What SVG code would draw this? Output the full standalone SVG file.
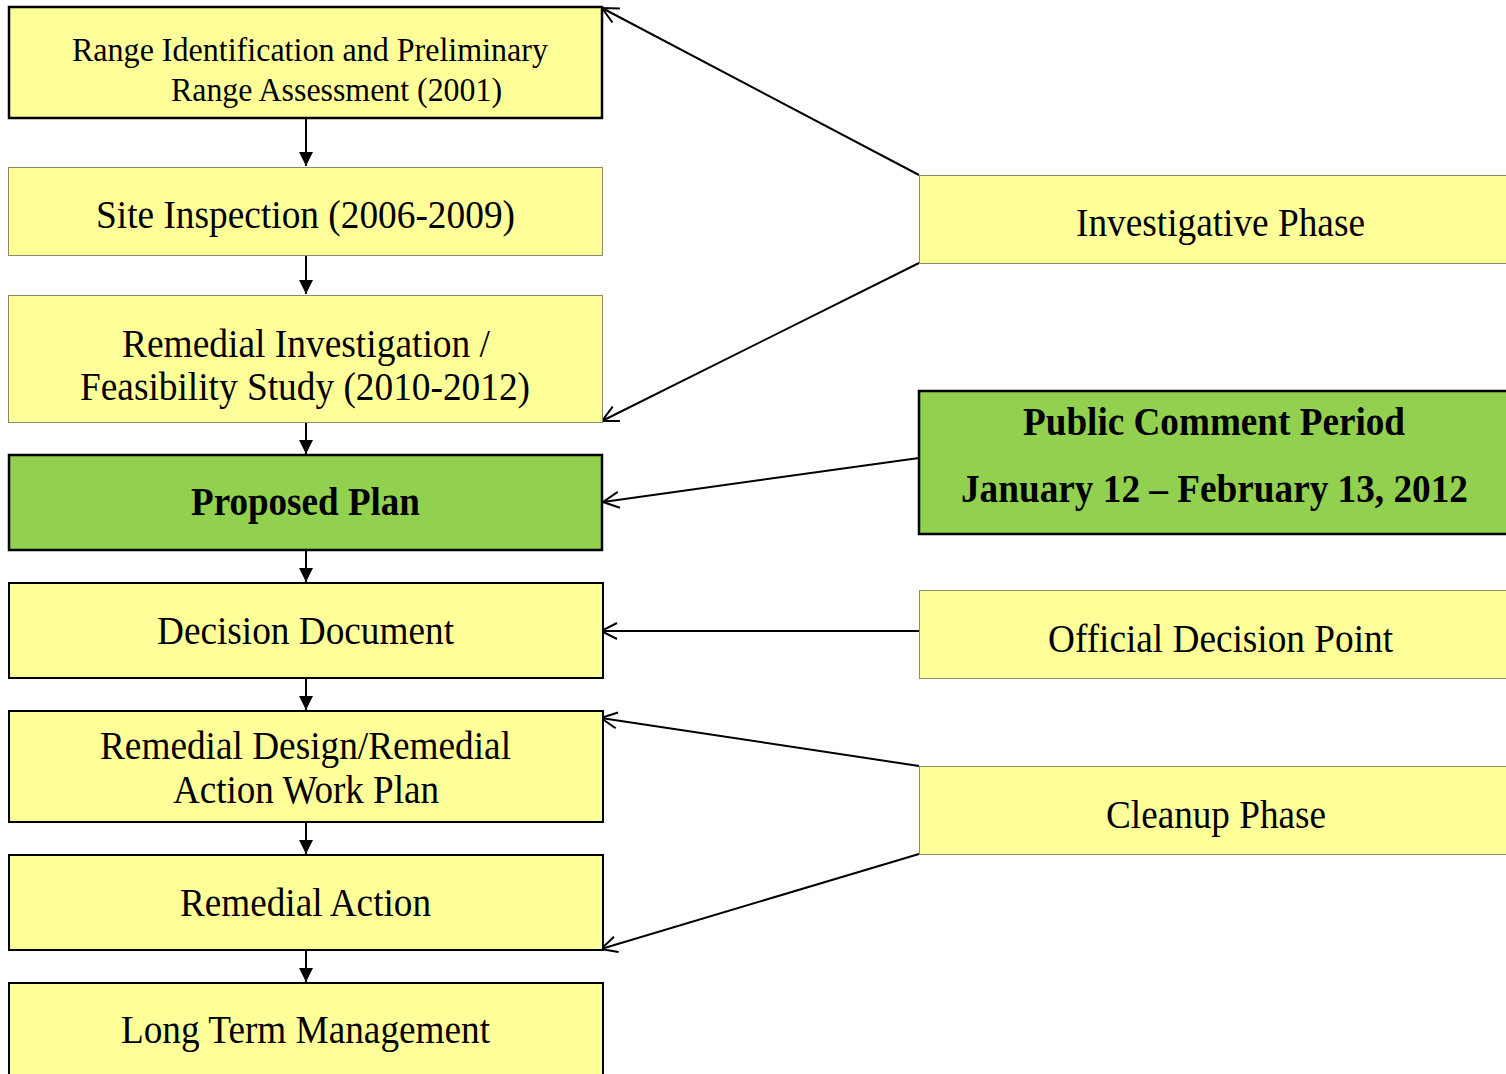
<svg xmlns="http://www.w3.org/2000/svg" width="1506" height="1074" viewBox="0 0 1506 1074">
<style>
.y{fill:#FFFF99}
.g{fill:#92D050}
.thin{stroke:#8a8a6a;stroke-width:1}
.thick{stroke:#000;stroke-width:2.5}
.t{font-size:40px;fill:#000}
.s{font-size:33px}
.b{font-weight:bold}
.c{stroke:#000;stroke-width:2;fill:none}
</style>
<defs>
<marker id="fa" viewBox="0 0 14 14" refX="14" refY="7" markerWidth="14" markerHeight="14" markerUnits="userSpaceOnUse" orient="auto">
<path d="M0,0 L14,7 L0,14 Z" fill="#000"/>
</marker>
<marker id="oa" viewBox="0 0 20 20" refX="19" refY="10" markerWidth="20" markerHeight="20" markerUnits="userSpaceOnUse" orient="auto-start-reverse">
<path d="M3,2 L19,10 L3,18" fill="none" stroke="#000" stroke-width="2"/>
</marker>
</defs>
<rect width="1506" height="1074" fill="#fff"/>
<g id="connectors">
<line class="c" x1="306" y1="119" x2="306" y2="166" marker-end="url(#fa)"/>
<line class="c" x1="306" y1="256" x2="306" y2="294" marker-end="url(#fa)"/>
<line class="c" x1="306" y1="423" x2="306" y2="454" marker-end="url(#fa)"/>
<line class="c" x1="306" y1="551" x2="306" y2="582" marker-end="url(#fa)"/>
<line class="c" x1="306" y1="679" x2="306" y2="710" marker-end="url(#fa)"/>
<line class="c" x1="306" y1="823" x2="306" y2="854" marker-end="url(#fa)"/>
<line class="c" x1="306" y1="951" x2="306" y2="982" marker-end="url(#fa)"/>
<line class="c" x1="602" y1="8" x2="919" y2="175" marker-start="url(#oa)"/>
<line class="c" x1="602" y1="421" x2="919" y2="263" marker-start="url(#oa)"/>
<line class="c" x1="603" y1="502" x2="919" y2="458" marker-start="url(#oa)"/>
<line class="c" x1="601" y1="631" x2="919" y2="631" marker-start="url(#oa)"/>
<line class="c" x1="601" y1="718" x2="919" y2="766" marker-start="url(#oa)"/>
<line class="c" x1="601" y1="949" x2="919" y2="854" marker-start="url(#oa)"/>
</g>
<g font-family="'Liberation Serif', 'Times New Roman', Times, serif">
<g id="n1"><rect class="y thick" x="9" y="7" width="593" height="111"/>
<text class="t s" x="72" y="61" textLength="476" lengthAdjust="spacingAndGlyphs">Range Identification and Preliminary</text>
<text class="t s" x="171" y="101" textLength="331" lengthAdjust="spacingAndGlyphs">Range Assessment (2001)</text></g>
<g id="n2"><rect class="y thin" x="8.5" y="167.5" width="594" height="88"/>
<text class="t" x="96" y="228" textLength="419" lengthAdjust="spacingAndGlyphs">Site Inspection (2006-2009)</text></g>
<g id="n3"><rect class="y thin" x="8.5" y="295.5" width="594" height="127"/>
<text class="t" x="122" y="357" textLength="368" lengthAdjust="spacingAndGlyphs">Remedial Investigation /</text>
<text class="t" x="80" y="400" textLength="450" lengthAdjust="spacingAndGlyphs">Feasibility Study (2010-2012)</text></g>
<g id="n4"><rect class="g thick" x="9" y="455" width="593" height="95"/>
<text class="t b" x="191" y="515" textLength="229" lengthAdjust="spacingAndGlyphs">Proposed Plan</text></g>
<g id="n5"><rect class="y thick" x="9" y="583" width="594" height="95" style="stroke-width:2"/>
<text class="t" x="157" y="644" textLength="297" lengthAdjust="spacingAndGlyphs">Decision Document</text></g>
<g id="n6"><rect class="y thick" x="9" y="711" width="594" height="111" style="stroke-width:2"/>
<text class="t" x="100" y="759" textLength="411" lengthAdjust="spacingAndGlyphs">Remedial Design/Remedial</text>
<text class="t" x="173" y="803" textLength="266" lengthAdjust="spacingAndGlyphs">Action Work Plan</text></g>
<g id="n7"><rect class="y thick" x="9" y="855" width="594" height="95" style="stroke-width:2"/>
<text class="t" x="180" y="916" textLength="251" lengthAdjust="spacingAndGlyphs">Remedial Action</text></g>
<g id="n8"><rect class="y thick" x="9" y="983" width="594" height="100" style="stroke-width:2"/>
<text class="t" x="121" y="1043" textLength="369" lengthAdjust="spacingAndGlyphs">Long Term Management</text></g>
<g id="r1"><rect class="y thin" x="919.5" y="175.5" width="590" height="88"/>
<text class="t" x="1076" y="236" textLength="289" lengthAdjust="spacingAndGlyphs">Investigative Phase</text></g>
<g id="r2"><rect class="g thick" x="919" y="391" width="590" height="143"/>
<text class="t b" x="1023" y="435" textLength="382" lengthAdjust="spacingAndGlyphs">Public Comment Period</text>
<text class="t b" x="961" y="502" textLength="507" lengthAdjust="spacingAndGlyphs">January 12 – February 13, 2012</text></g>
<g id="r3"><rect class="y thin" x="919.5" y="590.5" width="590" height="88"/>
<text class="t" x="1048" y="652" textLength="345" lengthAdjust="spacingAndGlyphs">Official Decision Point</text></g>
<g id="r4"><rect class="y thin" x="919.5" y="766.5" width="590" height="88"/>
<text class="t" x="1106" y="828" textLength="220" lengthAdjust="spacingAndGlyphs">Cleanup Phase</text></g>
</g>
</svg>
